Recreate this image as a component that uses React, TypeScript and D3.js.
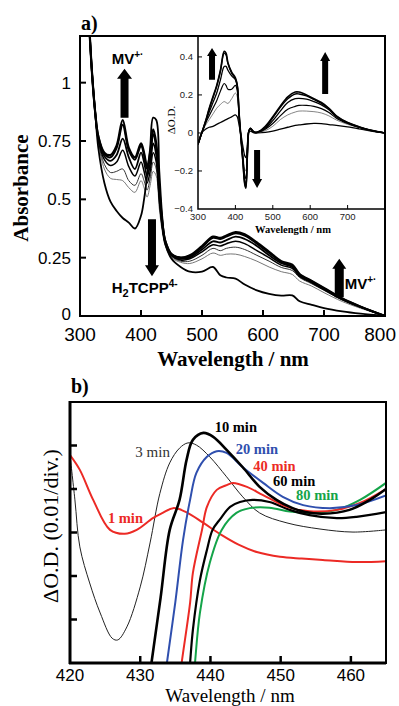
import * as d3 from "d3"

// ---- panel a) main spectra (absorbance) ----
const wlMain = [315, 320, 325, 330, 340, 350, 360, 370, 380, 390, 400, 405, 410, 415, 420, 425, 430, 435, 440, 450, 465, 480, 500, 518, 530, 540, 555, 570, 590, 610, 630, 648, 660, 680, 700, 730, 760, 800]
const absT0 = [1.25, 1.03, 0.87, 0.72, 0.57, 0.49, 0.45, 0.42, 0.4, 0.375, 0.43, 0.5, 0.6, 0.72, 0.85, 0.84, 0.62, 0.42, 0.31, 0.245, 0.21, 0.19, 0.19, 0.21, 0.175, 0.165, 0.16, 0.135, 0.11, 0.095, 0.087, 0.088, 0.063, 0.048, 0.034, 0.02, 0.01, 0]
const absT1 = [1.25, 1.03, 0.87, 0.77, 0.7, 0.69, 0.73, 0.84, 0.72, 0.68, 0.74, 0.7, 0.64, 0.7, 0.8, 0.74, 0.55, 0.4, 0.32, 0.265, 0.25, 0.26, 0.3, 0.34, 0.335, 0.345, 0.36, 0.35, 0.315, 0.275, 0.235, 0.22, 0.18, 0.15, 0.12, 0.075, 0.04, 0]
const absT2 = [1.25, 1.03, 0.87, 0.77, 0.695, 0.68, 0.72, 0.82, 0.71, 0.67, 0.73, 0.69, 0.63, 0.68, 0.78, 0.72, 0.54, 0.4, 0.32, 0.265, 0.25, 0.255, 0.295, 0.335, 0.33, 0.34, 0.355, 0.345, 0.31, 0.27, 0.232, 0.215, 0.178, 0.148, 0.118, 0.074, 0.04, 0]
const absT3 = [1.25, 1.03, 0.87, 0.76, 0.685, 0.665, 0.69, 0.76, 0.68, 0.63, 0.7, 0.66, 0.6, 0.65, 0.74, 0.69, 0.52, 0.39, 0.315, 0.26, 0.245, 0.25, 0.285, 0.32, 0.315, 0.325, 0.34, 0.33, 0.3, 0.26, 0.226, 0.21, 0.174, 0.145, 0.116, 0.072, 0.039, 0]
const absT4 = [1.25, 1.03, 0.87, 0.755, 0.67, 0.645, 0.66, 0.71, 0.64, 0.6, 0.66, 0.62, 0.57, 0.62, 0.7, 0.66, 0.5, 0.38, 0.31, 0.26, 0.24, 0.245, 0.275, 0.305, 0.3, 0.31, 0.32, 0.31, 0.28, 0.25, 0.218, 0.204, 0.17, 0.142, 0.113, 0.07, 0.038, 0]
const absT5 = [1.25, 1.03, 0.87, 0.75, 0.65, 0.615, 0.62, 0.63, 0.58, 0.56, 0.61, 0.58, 0.54, 0.59, 0.66, 0.63, 0.48, 0.37, 0.3, 0.255, 0.235, 0.235, 0.26, 0.29, 0.28, 0.29, 0.295, 0.285, 0.26, 0.235, 0.208, 0.195, 0.165, 0.138, 0.11, 0.068, 0.036, 0]
const absT6 = [1.25, 1.03, 0.87, 0.745, 0.63, 0.59, 0.585, 0.58, 0.55, 0.53, 0.58, 0.55, 0.51, 0.56, 0.62, 0.6, 0.46, 0.36, 0.3, 0.25, 0.23, 0.225, 0.245, 0.27, 0.26, 0.265, 0.265, 0.255, 0.235, 0.21, 0.19, 0.178, 0.15, 0.128, 0.1, 0.062, 0.033, 0]

// ---- inset: difference spectra ----
const wlInset = [300, 310, 320, 330, 340, 350, 360, 370, 375, 380, 390, 400, 405, 410, 415, 420, 425, 428, 432, 436, 440, 450, 460, 480, 500, 520, 540, 560, 570, 590, 610, 630, 650, 670, 700, 730, 760, 800]
const dOD1 = [-0.06, 0, 0.06, 0.13, 0.19, 0.25, 0.33, 0.43, 0.42, 0.37, 0.32, 0.29, 0.25, 0.1, -0.03, -0.15, -0.27, -0.29, -0.12, 0.01, 0.025, 0.005, 0.005, 0.035, 0.085, 0.14, 0.19, 0.215, 0.215, 0.2, 0.18, 0.16, 0.13, 0.09, 0.055, 0.033, 0.015, 0]
const dOD2 = [-0.06, 0, 0.06, 0.125, 0.185, 0.245, 0.325, 0.42, 0.41, 0.365, 0.315, 0.285, 0.25, 0.1, -0.03, -0.15, -0.265, -0.285, -0.12, 0.01, 0.025, 0.005, 0.005, 0.03, 0.08, 0.135, 0.18, 0.205, 0.205, 0.195, 0.176, 0.156, 0.128, 0.088, 0.054, 0.032, 0.015, 0]
const dOD3 = [-0.06, 0, 0.055, 0.11, 0.16, 0.21, 0.28, 0.35, 0.35, 0.33, 0.3, 0.28, 0.245, 0.09, -0.03, -0.14, -0.25, -0.27, -0.11, 0.01, 0.022, 0.004, 0.004, 0.025, 0.065, 0.115, 0.16, 0.18, 0.182, 0.178, 0.165, 0.148, 0.122, 0.085, 0.052, 0.031, 0.015, 0]
const dOD4 = [-0.06, 0, 0.05, 0.09, 0.13, 0.17, 0.22, 0.26, 0.25, 0.23, 0.23, 0.25, 0.22, 0.08, -0.03, -0.13, -0.22, -0.24, -0.1, 0.01, 0.02, 0.003, 0.003, 0.02, 0.05, 0.09, 0.125, 0.14, 0.145, 0.145, 0.14, 0.128, 0.108, 0.078, 0.05, 0.03, 0.014, 0]
const dOD5 = [-0.06, 0, 0.04, 0.07, 0.1, 0.13, 0.15, 0.165, 0.16, 0.155, 0.18, 0.21, 0.19, 0.07, -0.02, -0.11, -0.19, -0.2, -0.09, 0.01, 0.018, 0.002, 0.002, 0.012, 0.035, 0.07, 0.095, 0.11, 0.115, 0.115, 0.112, 0.105, 0.09, 0.068, 0.045, 0.028, 0.013, 0]
const dOD6 = [-0.06, 0, 0.02, 0.03, 0.035, 0.045, 0.055, 0.065, 0.07, 0.075, 0.085, 0.095, 0.085, 0.04, -0.01, -0.07, -0.12, -0.13, -0.06, 0.005, 0.01, 0, 0, 0.003, 0.01, 0.02, 0.03, 0.04, 0.042, 0.047, 0.05, 0.049, 0.044, 0.04, 0.032, 0.022, 0.011, 0]

// ---- panel b) time course (divisions of 0.01 O.D.) ----
const min1: [number, number][] = [[420, 4.78], [421.4, 4.44], [423.3, 3.75], [425.7, 3.06], [427.8, 2.97], [429.5, 3.06], [431.8, 3.33], [433.2, 3.45], [434.7, 3.56], [436.4, 3.48], [439, 3.22], [441.5, 2.95], [444, 2.72], [446.6, 2.55], [449.9, 2.44], [453, 2.4], [456, 2.37], [460.8, 2.32], [465, 2.34]]
const min3: [number, number][] = [[420, 4.78], [420.7, 3.75], [421.4, 2.67], [422.8, 1.84], [424.3, 1.15], [426, 0.57], [426.8, 0.53], [428.1, 0.83], [430, 1.75], [431.4, 2.76], [432.8, 3.9], [434.2, 4.6], [435.6, 4.94], [436.8, 5.06], [438, 5.01], [439.9, 4.74], [442.3, 4.28], [444.6, 3.82], [447, 3.45], [450.9, 3.22], [455.6, 3.08], [460.3, 3.01], [465, 3.06]]
const min10: [number, number][] = [[431.3, -0.4], [431.6, 0], [432.9, 1.5], [434.2, 3.06], [435.6, 3.75], [436.6, 4.67], [437.5, 5.13], [439, 5.29], [440.4, 5.2], [442.3, 4.9], [444.6, 4.5], [447, 4.05], [449.4, 3.75], [451.7, 3.56], [453.5, 3.47], [456, 3.43], [459.8, 3.52], [463.1, 3.79], [465, 4.0]]
const min20: [number, number][] = [[433.5, -0.4], [433.8, 0], [435, 1.4], [436.1, 2.83], [437.1, 3.75], [438, 4.37], [439.5, 4.74], [440.9, 4.87], [442.3, 4.83], [444.6, 4.5], [447.5, 4.14], [450.3, 3.82], [453.2, 3.63], [457, 3.56], [460.8, 3.63], [465, 3.85]]
const min40: [number, number][] = [[435.6, -0.4], [435.9, 0], [437.1, 1.38], [437.5, 2.07], [438.8, 3.06], [439.5, 3.59], [440.9, 3.98], [442.3, 4.09], [443.2, 4.14], [445.2, 4.05], [447.5, 3.86], [450.9, 3.59], [454.1, 3.49], [458, 3.52], [461.3, 3.68], [465, 4.0]]
const min60: [number, number][] = [[436.9, -0.4], [437.1, 0], [437.5, 0.76], [438.5, 1.9], [439.5, 2.6], [440.3, 3.06], [441.3, 3.29], [442.8, 3.59], [444.2, 3.7], [446, 3.75], [448.4, 3.7], [451.3, 3.52], [454.1, 3.4], [458, 3.33], [460.8, 3.36], [465, 3.47]]
const min80: [number, number][] = [[437.6, -0.4], [437.8, 0], [438.5, 1.15], [439.9, 2.3], [441.6, 3.06], [443.7, 3.45], [445.6, 3.56], [448.4, 3.57], [451.3, 3.48], [454.1, 3.45], [458, 3.52], [461.3, 3.75], [465, 4.14]]

const mainTicksX = [300, 400, 500, 600, 700, 800]
const mainTicksY = [0, 0.25, 0.5, 0.75, 1]
const insetTicksX = [300, 400, 500, 600, 700]
const insetTicksY = [-0.4, -0.2, 0, 0.2, 0.4]
const bTicksX = [420, 430, 440, 450, 460]
const bTicksY = [1, 2, 3, 4, 5]

const RED = "#ec2a25"
const BLUE = "#2f4fae"
const GREEN = "#14a449"
const SANS = "'Liberation Sans', Arial, sans-serif"
const SERIF = "'Liberation Serif', 'Times New Roman', serif"

const fmtY = (d: number) => String(d)
const fmtInset = (d: number) => (d === 0 ? "0" : d < 0 ? "\u2212" + Math.abs(d) : String(d))

function arrow(cx: number, tail: number, tip: number, shaft: number, head: number, headLen: number) {
  const dir = tip < tail ? 1 : -1
  const hb = tip + dir * headLen
  return `M${cx - shaft / 2},${tail}L${cx - shaft / 2},${hb}L${cx - head / 2},${hb}L${cx},${tip}L${cx + head / 2},${hb}L${cx + shaft / 2},${hb}L${cx + shaft / 2},${tail}Z`
}

export default function App() {
  // panel a scales
  const x = d3.scaleLinear().domain([300, 800]).range([80, 385])
  const y = d3.scaleLinear().domain([0, 1.2]).range([316, 36])
  const xi = d3.scaleLinear().domain([300, 800]).range([198, 385])
  const yi = d3.scaleLinear().domain([-0.4, 0.51]).range([209, 36])
  // panel b scales
  const xb = d3.scaleLinear().domain([420, 465]).range([70, 386])
  const yb = d3.scaleLinear().domain([0, 6]).range([663, 402])

  const mainLine = d3
    .line<number>()
    .x((_, i) => x(wlMain[i]))
    .y((d) => y(d))
    .curve(d3.curveCatmullRom.alpha(0.5))
  const insetLine = d3
    .line<number>()
    .x((_, i) => xi(wlInset[i]))
    .y((d) => yi(d))
    .curve(d3.curveCatmullRom.alpha(0.5))
  const bLine = d3
    .line<[number, number]>()
    .x((d) => xb(d[0]))
    .y((d) => yb(d[1]))
    .curve(d3.curveCatmullRom.alpha(0.5))

  const mainSeries = [
    { v: absT6, w: 1, c: "#777" },
    { v: absT5, w: 1, c: "#333" },
    { v: absT4, w: 1.5, c: "#000" },
    { v: absT3, w: 1.8, c: "#000" },
    { v: absT2, w: 2, c: "#000" },
    { v: absT1, w: 2.2, c: "#000" },
    { v: absT0, w: 1.8, c: "#000" },
  ]
  const insetSeries = [
    { v: dOD6, w: 1.3, c: "#000" },
    { v: dOD5, w: 0.8, c: "#666" },
    { v: dOD4, w: 1.2, c: "#000" },
    { v: dOD3, w: 1.3, c: "#000" },
    { v: dOD2, w: 1.4, c: "#000" },
    { v: dOD1, w: 1.6, c: "#000" },
  ]
  const bSeries = [
    { v: min3, w: 1, c: "#222" },
    { v: min1, w: 2, c: RED },
    { v: min80, w: 2, c: GREEN },
    { v: min60, w: 2.2, c: "#000" },
    { v: min40, w: 2, c: RED },
    { v: min20, w: 2, c: BLUE },
    { v: min10, w: 2.6, c: "#000" },
  ]
  const bLabels = [
    { t: "10 min", w: 440.6, v: 5.31, c: "#000", bold: true },
    { t: "20 min", w: 443.6, v: 4.8, c: BLUE, bold: true },
    { t: "40 min", w: 446.1, v: 4.41, c: RED, bold: true },
    { t: "60 min", w: 448.9, v: 4.07, c: "#000", bold: true },
    { t: "80 min", w: 452.2, v: 3.75, c: GREEN, bold: true },
    { t: "3 min", w: 429.3, v: 4.74, c: "#333", bold: false },
    { t: "1 min", w: 425.4, v: 3.22, c: RED, bold: true },
  ]

  return (
    <svg width={399} height={706} style={{ position: "absolute", left: 0, top: 0, background: "#fff" }}>
      <defs>
        <clipPath id="clipMain">
          <rect x={80} y={36} width={305} height={280} />
        </clipPath>
        <clipPath id="clipInset">
          <rect x={198} y={36} width={187} height={173} />
        </clipPath>
        <clipPath id="clipB">
          <rect x={70} y={402} width={316} height={261} />
        </clipPath>
      </defs>

      {/* ===== panel a ===== */}
      <text x={81} y={30} fontFamily={SERIF} fontWeight="bold" fontSize={20}>a)</text>
      <g clipPath="url(#clipMain)">
        {mainSeries.map((s, i) => (
          <path key={i} d={mainLine(s.v) || ""} fill="none" stroke={s.c} strokeWidth={s.w} strokeLinejoin="round" />
        ))}
      </g>
      {mainTicksY.slice(1).map((t) => (
        <line key={t} x1={80} x2={86} y1={y(t)} y2={y(t)} stroke="#000" strokeWidth={2} />
      ))}
      {mainTicksX.slice(1, -1).map((t) => (
        <line key={t} x1={x(t)} x2={x(t)} y1={316} y2={310} stroke="#000" strokeWidth={2} />
      ))}
      {mainTicksY.map((t) => (
        <text key={t} x={71} y={t === 0 ? y(t) - 2 : y(t)} dy="0.36em" textAnchor="end" fontFamily={SANS} fontSize={17}>
          {fmtY(t)}
        </text>
      ))}
      {mainTicksX.map((t, i) => (
        <text
          key={t}
          x={i === mainTicksX.length - 1 ? 396 : x(t)}
          y={341}
          textAnchor={i === mainTicksX.length - 1 ? "end" : "middle"}
          fontFamily={SANS}
          fontSize={19}
        >
          {t}
        </text>
      ))}
      <text transform="translate(28,188) rotate(-90)" textAnchor="middle" fontFamily={SERIF} fontWeight="bold" fontSize={21}>
        Absorbance
      </text>
      <text x={233} y={366} textAnchor="middle" fontFamily={SERIF} fontWeight="bold" fontSize={21}>
        Wavelength / nm
      </text>

      {/* arrows + labels in main */}
      <path d={arrow(x(373), y(0.85), y(1.06), 8, 15, 10)} fill="#000" />
      <text x={x(352)} y={y(1.08)} fontFamily={SANS} fontWeight="bold" fontSize={15}>
        MV<tspan dy={-6} fontSize={10}>+·</tspan>
      </text>
      <path d={arrow(x(418), y(0.415), y(0.17), 8, 14, 11)} fill="#000" />
      <text x={x(352)} y={y(0.1)} fontFamily={SANS} fontWeight="bold" fontSize={15}>
        H<tspan dy={4} fontSize={11}>2</tspan>
        <tspan dy={-4}>TCPP</tspan>
        <tspan dy={-6} fontSize={10}>4-</tspan>
      </text>
      <path d={arrow(x(725), y(0.08), y(0.245), 9, 14, 10)} fill="#000" />
      <text x={x(734)} y={y(0.115)} fontFamily={SANS} fontWeight="bold" fontSize={15}>
        MV<tspan dy={-6} fontSize={10}>+·</tspan>
      </text>

      {/* ===== inset ===== */}
      <rect x={198} y={36} width={187} height={173} fill="#fff" />
      <g clipPath="url(#clipInset)">
        {insetSeries.map((s, i) => (
          <path key={i} d={insetLine(s.v) || ""} fill="none" stroke={s.c} strokeWidth={s.w} strokeLinejoin="round" />
        ))}
      </g>
      <rect x={198} y={36} width={187} height={173} fill="none" stroke="#000" strokeWidth={1.5} />
      {insetTicksY.slice(1).map((t) => (
        <line key={t} x1={198} x2={202} y1={yi(t)} y2={yi(t)} stroke="#000" strokeWidth={1} />
      ))}
      {insetTicksX.slice(1).map((t) => (
        <line key={t} x1={xi(t)} x2={xi(t)} y1={209} y2={205} stroke="#000" strokeWidth={1} />
      ))}
      {insetTicksY.map((t) => (
        <text key={t} x={193} y={yi(t)} dy="0.36em" textAnchor="end" fontFamily={SANS} fontSize={9.5} fill="#222">
          {fmtInset(t)}
        </text>
      ))}
      {insetTicksX.map((t) => (
        <text key={t} x={xi(t)} y={220} textAnchor="middle" fontFamily={SANS} fontSize={9.5} fill="#222">
          {t}
        </text>
      ))}
      <text transform="translate(175,120) rotate(-90)" textAnchor="middle" fontFamily={SERIF} fontSize={11}>
        ΔO.D.
      </text>
      <text x={293} y={233} textAnchor="middle" fontFamily={SERIF} fontWeight="bold" fontSize={10.5}>
        Wavelength / nm
      </text>
      <path d={arrow(xi(337.5), yi(0.28), yi(0.447), 6, 10, 8)} fill="#000" />
      <path d={arrow(xi(640), yi(0.205), yi(0.426), 6, 10, 9)} fill="#000" />
      <path d={arrow(xi(458), yi(-0.09), yi(-0.29), 6, 10, 9)} fill="#000" />

      {/* main frame on top */}
      <rect x={80} y={36} width={305} height={280} fill="none" stroke="#000" strokeWidth={2} />

      {/* ===== panel b ===== */}
      <text x={71} y={393} fontFamily={SERIF} fontWeight="bold" fontSize={20}>b)</text>
      <g clipPath="url(#clipB)">
        {bSeries.map((s, i) => (
          <path key={i} d={bLine(s.v) || ""} fill="none" stroke={s.c} strokeWidth={s.w} strokeLinejoin="round" />
        ))}
      </g>
      <rect x={70} y={402} width={316} height={261} fill="none" stroke="#000" strokeWidth={2} />
      <line x1={70} x2={70} y1={401} y2={664} stroke="#000" strokeWidth={3} />
      <line x1={69} x2={386} y1={663} y2={663} stroke="#000" strokeWidth={3} />
      {bTicksY.map((t) => (
        <line key={t} x1={70} x2={77} y1={yb(t)} y2={yb(t)} stroke="#000" strokeWidth={2.5} />
      ))}
      {bTicksX.slice(1).map((t) => (
        <line key={t} x1={xb(t)} x2={xb(t)} y1={663} y2={656} stroke="#000" strokeWidth={2.5} />
      ))}
      {bTicksX.map((t) => (
        <text key={t} x={xb(t)} y={681} textAnchor="middle" fontFamily={SANS} fontSize={17}>
          {t}
        </text>
      ))}
      <text transform="translate(58,526) rotate(-90)" textAnchor="middle" fontFamily={SERIF} fontSize={22}>
        ΔO.D. (0.01/div.)
      </text>
      <text x={230} y={702} textAnchor="middle" fontFamily={SERIF} fontSize={19}>
        Wavelength / nm
      </text>
      {bLabels.map((l) => (
        <text key={l.t} x={xb(l.w)} y={yb(l.v)} fontFamily={SERIF} fontWeight={l.bold ? "bold" : "normal"} fontSize={l.bold ? 14.5 : 15} fill={l.c}>
          {l.t}
        </text>
      ))}
    </svg>
  )
}
